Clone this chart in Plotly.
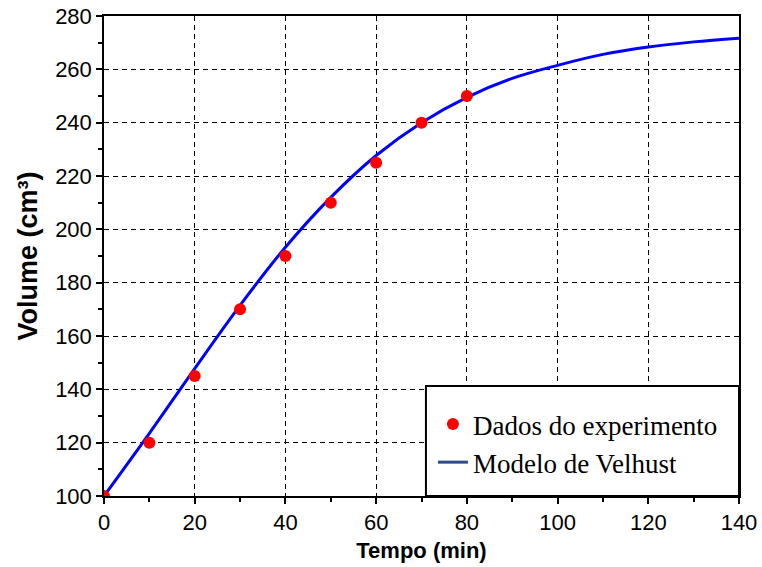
import plotly.graph_objects as go

# Experimental data
tempo_exp = [0, 10, 20, 30, 40, 50, 60, 70, 80]
volume_exp = [100, 120, 145, 170, 190, 210, 225, 240, 250]

# Model curve
tempo_mod = [0, 10, 20, 30, 40, 50, 60, 70, 80, 90, 100, 110, 120, 130, 140]
volume_mod = [100, 123.5, 147.8, 171.5, 193.3, 212, 227.7, 240, 249.5, 256.6, 261.5, 265.6, 268.4, 270.3, 271.7]

xticks = [0, 20, 40, 60, 80, 100, 120, 140]
yticks = [100, 120, 140, 160, 180, 200, 220, 240, 260, 280]

fig = go.Figure()
fig.add_trace(go.Scatter(
    x=tempo_mod, y=volume_mod, mode="lines", line=dict(color="#0000ff", width=3, shape="spline"),
    showlegend=False))
fig.add_trace(go.Scatter(
    x=tempo_exp, y=volume_exp, mode="markers", name="Dados do experimento",
    marker=dict(color="#ff0000", size=12)))
fig.add_trace(go.Scatter(
    x=[None], y=[None], mode="lines", name="Modelo de Velhust",
    line=dict(color="#2b4b8c", width=3)))

axis_common = dict(
    showline=True, linecolor="black", linewidth=1.5, mirror=True,
    ticks="outside", ticklen=6, tickwidth=1.5, tickcolor="black",
    showgrid=True, gridcolor="black", gridwidth=1, griddash="5px,4px",
    zeroline=False, automargin=False,
    tickfont=dict(family="Liberation Sans, Arial", size=22, color="black"),
    minor=dict(dtick=10, ticks="outside", ticklen=4, tickcolor="black", tickwidth=1.5, showgrid=False),
)

fig.update_xaxes(range=[0, 140], tickvals=xticks, ticktext=[str(v) for v in xticks],
                 title=dict(text="<b>Tempo (min)</b>", font=dict(family="Liberation Sans, Arial", size=22, color="black"), standoff=8),
                 **axis_common)
fig.update_yaxes(range=[100, 280], tickvals=yticks, ticktext=[str(v) for v in yticks],
                 title=dict(text="<b>Volume (cm³)</b>", font=dict(family="Liberation Sans, Arial", size=27, color="black"), standoff=10),
                 **axis_common)

fig.add_shape(type="rect", xref="paper", yref="paper", x0=0.507, x1=1.0, y0=0.0, y1=0.229,
              line=dict(color="black", width=2), fillcolor="white", layer="above")

fig.update_layout(
    width=762, height=567,
    margin=dict(l=104, r=23, t=16, b=71),
    paper_bgcolor="white", plot_bgcolor="white",
    legend=dict(x=0.518, y=0.2, xanchor="left", yanchor="top",
                bgcolor="rgba(0,0,0,0)", borderwidth=0,
                font=dict(family="Liberation Serif, Times New Roman", size=27, color="black"),
                itemwidth=30, tracegroupgap=0),
)

fig.write_html("out.html", config={"displayModeBar": False},
               post_script="document.body.style.margin='0';document.body.style.overflow='hidden';")
